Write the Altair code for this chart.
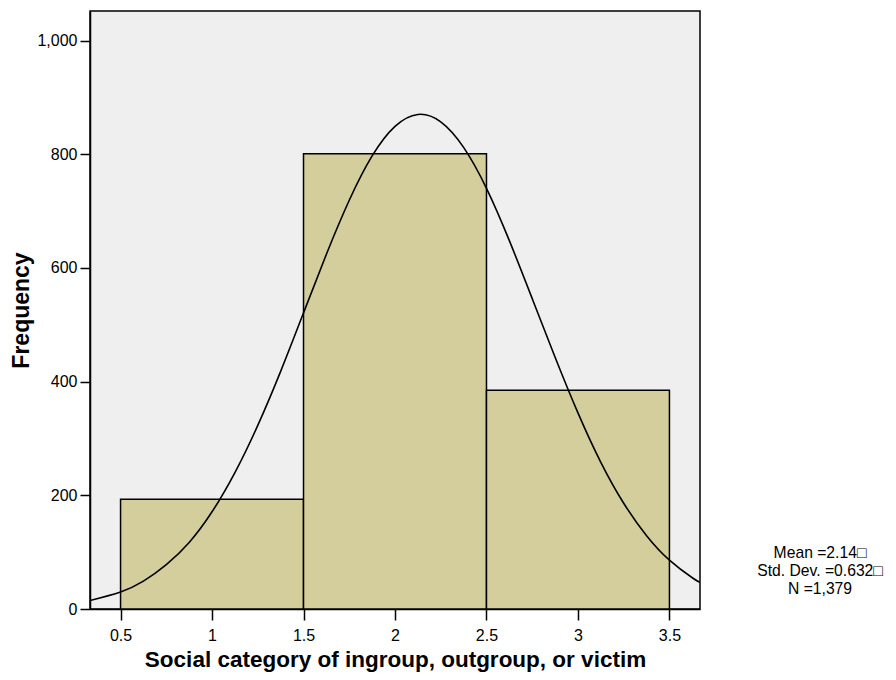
import altair as alt
import pandas as pd

# Histogram bins (social category) and frequencies
bin_start = [0.5, 1.5, 2.5]
bin_end = [1.5, 2.5, 3.5]
freq = [193, 801, 385]

# Normal curve
curve_x = [0.333, 0.5, 0.625, 0.75, 0.875, 1.0, 1.125, 1.25, 1.375, 1.5, 1.625, 1.75, 1.875,
           2.0, 2.125, 2.25, 2.375, 2.5, 2.625, 2.75, 2.875, 3.0, 3.125, 3.25, 3.375, 3.5,
           3.625, 3.667]
curve_y = [15, 30, 49, 78, 117, 171, 240, 323, 418, 521, 624, 719, 797,
           849, 870, 857, 812, 740, 648, 546, 443, 345, 258, 186, 129, 86,
           55, 47]

x_ticks = [0.5, 1, 1.5, 2, 2.5, 3, 3.5]
y_ticks = [0, 200, 400, 600, 800, 1000]

stats_lines = ["Mean =2.14\u25a1", "Std. Dev. =0.632\u25a1", "N =1,379"]

bars_df = pd.DataFrame({"start": bin_start, "end": bin_end, "freq": freq})
curve_df = pd.DataFrame({"x": curve_x, "y": curve_y})

FONT = "Liberation Sans"

xscale = alt.Scale(domain=[0.333, 3.667], nice=False, zero=False)
yscale = alt.Scale(domain=[0, 1052], nice=False)

bars = alt.Chart(bars_df).mark_rect(
    fill="#D3CE9B", stroke="black", strokeWidth=1.5
).encode(
    x=alt.X("start:Q", scale=xscale,
            axis=alt.Axis(values=x_ticks, format="~g",
                          title="Social category of ingroup, outgroup, or victim")),
    x2="end:Q",
    y=alt.Y("freq:Q", scale=yscale,
            axis=alt.Axis(values=y_ticks, format=",d", title="Frequency")),
    y2=alt.datum(0),
)

curve = alt.Chart(curve_df).mark_line(
    color="black", strokeWidth=1.6, interpolate="natural", clip=True
).encode(
    x=alt.X("x:Q", scale=xscale),
    y=alt.Y("y:Q", scale=yscale),
)

text_layers = []
for i, line in enumerate(stats_lines):
    text_layers.append(
        alt.Chart(pd.DataFrame({"t": [line]})).mark_text(
            font=FONT, fontSize=15.7, color="black", align="center", baseline="middle"
        ).encode(
            text="t:N",
            x=alt.value(730),
            y=alt.value(542 + 18 * i),
        )
    )

chart = alt.layer(bars, curve, *text_layers).properties(
    width=610,
    height=598,
    autosize=alt.AutoSizeParams(type="none"),
    padding={"left": 82, "top": 3, "right": 188, "bottom": 63},
).configure_view(
    fill="#EFEFEF", stroke="black", strokeWidth=1.5
).configure_axis(
    grid=False,
    labelFont=FONT, labelFontSize=16, labelColor="black", labelPadding=3,
    tickColor="black", tickSize=10, tickWidth=1.5,
    domainColor="black", domainWidth=1.5,
    titleFont=FONT, titleFontWeight="bold", titleColor="black",
).configure_axisX(
    titlePadding=5, labelPadding=7, tickSize=11, titleFontSize=22.5,
).configure_axisY(
    titlePadding=3, titleFontSize=23,
)

chart.save("out.html", embed_options={"renderer": "svg", "actions": False})
